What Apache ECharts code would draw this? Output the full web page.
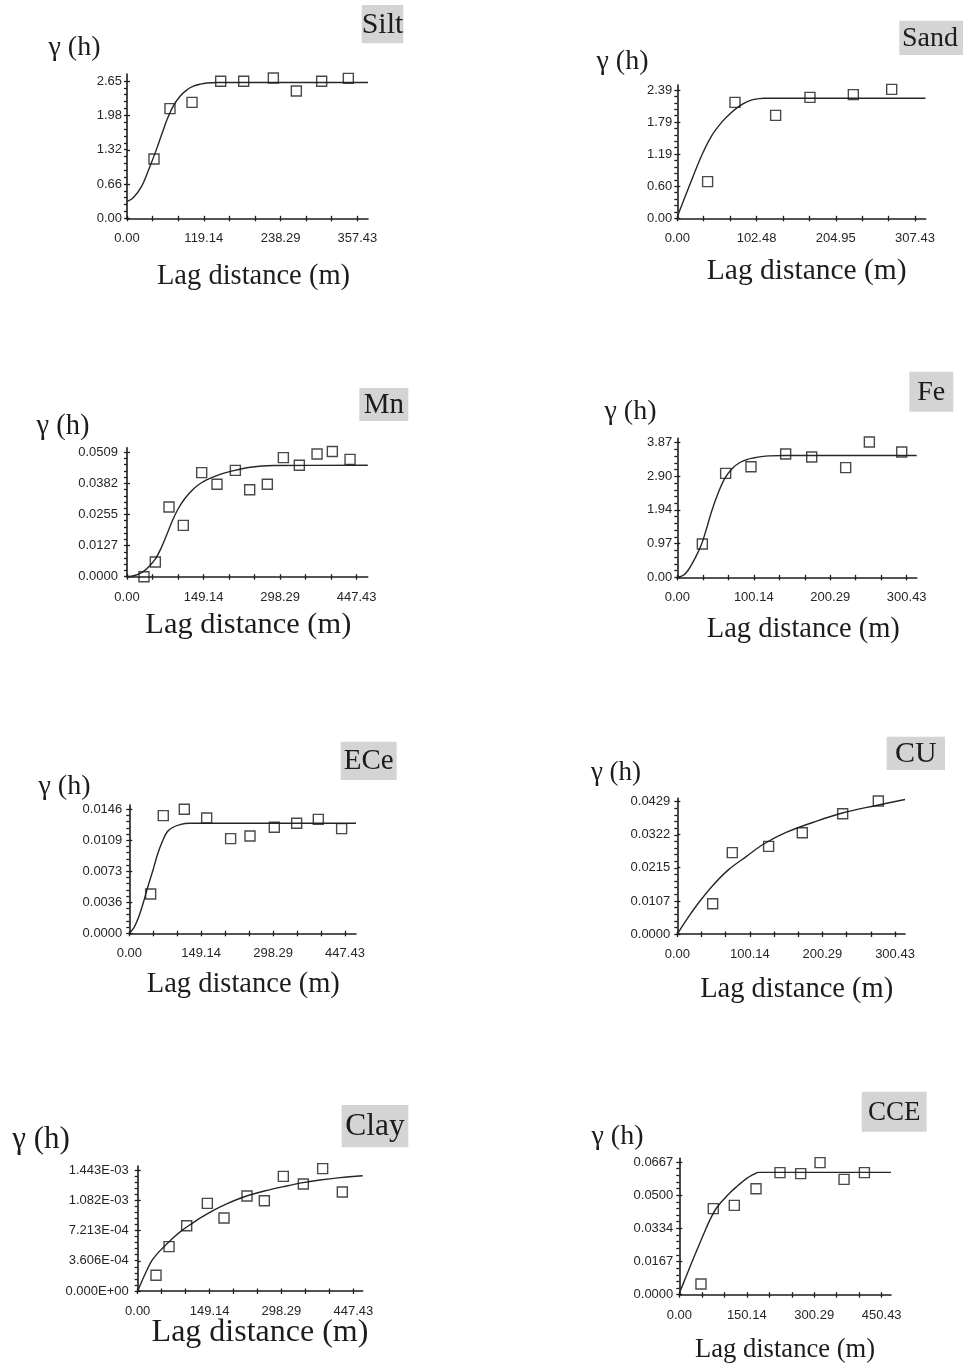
<!DOCTYPE html>
<html><head><meta charset="utf-8">
<script src="https://cdn.jsdelivr.net/npm/echarts@6/dist/echarts.min.js"></script>
<style>html,body{margin:0;padding:0;background:#fff}#c{width:963px;height:1364px}</style>
</head><body><div id="c"></div>
<script>
// ---------- DATA ----------
const siltPoints = [[41.9,1.145],[66.7,2.116],[100.9,2.238],[145.4,2.644],[181.1,2.644],[227.1,2.708],[262.8,2.457],[302.1,2.644],[343.5,2.701]];
const siltModel  = [[0,0.32],[10,0.40],[22.8,0.62],[34,0.95],[46,1.34],[55,1.66],[62.6,1.92],[72,2.17],[82,2.35],[92,2.47],[103,2.55],[114,2.59],[124,2.61],[140,2.62],[374,2.62]];
const siltXTicks = ['0.00','119.14','238.29','357.43'];
const siltYTicks = ['0.00','0.66','1.32','1.98','2.65'];

const sandPoints = [[39.2,0.683],[74.6,2.160],[127.2,1.918],[171.6,2.253],[227.7,2.303],[277.3,2.402]];
const sandModel  = [[0,0.03],[15.5,0.6],[31.5,1.17],[45,1.55],[58.2,1.80],[70,1.97],[81,2.1],[90,2.17],[98,2.21],[106,2.23],[112,2.235],[321,2.235]];
const sandXTicks = ['0.00','102.48','204.95','307.43'];
const sandYTicks = ['0.00','0.60','1.19','1.79','2.39'];

const mnPoints = [[33.1,0],[55.2,0.0060],[81.8,0.0285],[109.7,0.0210],[145.5,0.0426],[175.3,0.0378],[211.1,0.0435],[239,0.0356],[273.4,0.0378],[304.6,0.0487],[335.7,0.0456],[370.2,0.0502],[400,0.0512],[434.5,0.0480]];
const mnModel  = [[0,0],[15,0.0005],[30,0.0019],[42,0.0040],[55,0.0072],[66,0.0115],[78,0.0175],[89,0.0232],[100,0.0279],[112,0.0318],[126,0.0352],[140,0.0377],[155,0.0396],[180,0.0418],[200,0.043],[240,0.0448],[285,0.0455],[469,0.0456]];
const mnXTicks = ['0.00','149.14','298.29','447.43'];
const mnYTicks = ['0.0000','0.0127','0.0255','0.0382','0.0509'];

const fePoints = [[32.8,0.958],[63.3,2.989],[96.5,3.180],[141.9,3.544],[176,3.458],[220.5,3.152],[251.5,3.889],[293.9,3.602]];
const feModel  = [[0,0],[8,0.06],[14.4,0.21],[24,0.58],[31.9,0.96],[38,1.38],[45,1.90],[54,2.45],[62.4,2.85],[72,3.13],[82,3.30],[92,3.39],[99.6,3.43],[110,3.47],[121,3.49],[140,3.5],[313.5,3.5]];
const feXTicks = ['0.00','100.14','200.29','300.43'];
const feYTicks = ['0.00','0.97','1.94','2.90','3.87'];

const ecePoints = [[44.3,0.00463],[70.5,0.01386],[114.1,0.0146],[160.5,0.01358],[210.2,0.01115],[250.4,0.01146],[300.8,0.01248],[347.2,0.01295],[392.1,0.01342],[440.5,0.01232]];
const eceModel  = [[0,0],[10,0.0007],[20,0.002],[29,0.0036],[38,0.0054],[48.4,0.0073],[58,0.0092],[68.5,0.0108],[78,0.0119],[88,0.0124],[105,0.0128],[126,0.01295],[470.3,0.01295]];
const eceXTicks = ['0.00','149.14','298.29','447.43'];
const eceYTicks = ['0.0000','0.0036','0.0073','0.0109','0.0146'];

const cuPoints = [[48.8,0.00983],[75.9,0.02637],[126,0.02842],[172.5,0.03285],[228.2,0.03901],[277.4,0.04312]];
const cuModel  = [[0,0],[15,0.0054],[31.3,0.0107],[50,0.0160],[70.4,0.0208],[95,0.0251],[118.7,0.0291],[150.9,0.0330],[192.3,0.0366],[229,0.0393],[272.8,0.0416],[314.2,0.0436]];
const cuXTicks = ['0.00','100.14','200.29','300.43'];
const cuYTicks = ['0.0000','0.0107','0.0215','0.0322','0.0429'];

const clayPoints = [[38,1.87e-4],[65,5.29e-4],[101.7,7.79e-4],[144.5,1.045e-3],[179.1,8.71e-4],[226.8,1.133e-3],[262.8,1.077e-3],[302.2,1.367e-3],[343.7,1.276e-3],[383.8,1.459e-3],[424.6,1.181e-3]];
const clayModel  = [[0,0],[10,1.35e-4],[20,2.6e-4],[29,3.58e-4],[42,4.55e-4],[56.7,5.4e-4],[75,6.4e-4],[91.3,7.2e-4],[110,7.95e-4],[132.8,8.8e-4],[160,9.7e-4],[184.7,1.04e-3],[226,1.133e-3],[265,1.195e-3],[302,1.244e-3],[340,1.29e-3],[378,1.324e-3],[420,1.352e-3],[466.9,1.375e-3]];
const clayXTicks = ['0.00','149.14','298.29','447.43'];
const clayYTicks = ['0.000E+00','3.606E-04','7.213E-04','1.082E-03','1.443E-03'];

const ccePoints = [[48.2,0.00536],[75.7,0.04324],[122.4,0.04491],[170.7,0.05329],[224.1,0.06134],[270.1,0.06084],[313.2,0.06637],[366.6,0.05799],[411.9,0.06134]];
const cceModel  = [[0,0.0007],[14,0.0085],[27.5,0.0161],[43,0.0245],[58.6,0.0328],[70,0.0385],[81.6,0.0432],[92,0.0462],[103,0.0489],[115,0.0518],[127.6,0.0543],[140,0.0567],[150,0.0585],[160,0.0599],[168.5,0.0608],[176,0.0615],[471,0.0615]];
const cceXTicks = ['0.00','150.14','300.29','450.43'];
const cceYTicks = ['0.0000','0.0167','0.0334','0.0500','0.0667'];

const panelNames = ['Silt','Sand','Mn','Fe','ECe','CU','Clay','CCE'];
const yTitle = 'γ (h)';
const xTitle = 'Lag distance (m)';

// ---------- LAYOUT / STYLE ----------
const layout = [
  {pts:siltPoints, mdl:siltModel, xt:siltXTicks, yt:siltYTicks, grid:[127,74,241,144.3], xMax:374, yMax:2.785, gamma:[74.5,48,28], lag:[253.5,276.7,28.5], box:[361.7,5,41.6,38.3], tSize:30, yMargin:5},
  {pts:sandPoints, mdl:sandModel, xt:sandXTicks, yt:sandYTicks, grid:[677.3,85,248.4,133.3], xMax:321.3, yMax:2.483, gamma:[622.5,62,28], lag:[806.7,271.7,29.5], box:[899.3,20.7,70,34.3], tSize:28, yMargin:5, tCx:930},
  {pts:mnPoints, mdl:mnModel, xt:mnXTicks, yt:mnYTicks, grid:[127,447.7,240.7,129], xMax:468.9, yMax:0.05278, gamma:[63,426.7,28.5], lag:[248.3,625,30.4], box:[359.3,388,49,33], tSize:29, yMargin:9},
  {pts:fePoints, mdl:feModel, xt:feXTicks, yt:feYTicks, grid:[677.3,438.3,239.4,139], xMax:313.5, yMax:3.996, gamma:[630.5,411.7,28], lag:[803.3,630,28.5], box:[909.3,371.7,44,40], tSize:28, yMargin:5},
  {pts:ecePoints, mdl:eceModel, xt:eceXTicks, yt:eceYTicks, grid:[129.3,805,226.7,128.3], xMax:470.3, yMax:0.015107, gamma:[64.5,786.7,28], lag:[243.3,985,28.5], box:[340.7,741.7,56,38.3], tSize:29, yMargin:7},
  {pts:cuPoints, mdl:cuModel, xt:cuXTicks, yt:cuYTicks, grid:[677.3,798.3,227.7,135.7], xMax:314.2, yMax:0.0440, gamma:[616,773,27], lag:[796.7,990,28.5], box:[886.7,736.7,58.3,33.3], tSize:30, yMargin:7},
  {pts:clayPoints, mdl:clayModel, xt:clayXTicks, yt:clayYTicks, grid:[137.7,1166,225,125], xMax:466.9, yMax:0.0014907, gamma:[41,1140,31], lag:[260,1333,32], box:[341.7,1105,66.6,42.3], tSize:31.5, yMargin:9},
  {pts:ccePoints, mdl:cceModel, xt:cceXTicks, yt:cceYTicks, grid:[679.3,1158.3,211.7,136.4], xMax:471.1, yMax:0.06856, gamma:[617.5,1136.7,28], lag:[785,1350,26.6], box:[861.7,1091.7,65,40], tSize:27, yMargin:6}
];

const SERIF = "'Liberation Serif','Times New Roman',serif";
const SANS = "'Liberation Sans',Arial,sans-serif";
const INK = '#1c1c1c';

function fmt(labels){
  return function(v){
    let best = labels[0], bd = Infinity;
    labels.forEach(s => { const d = Math.abs(Number(s) - v); if (d < bd) { bd = d; best = s; } });
    return best;
  };
}

const grids = [], xAxes = [], yAxes = [], series = [], graphics = [];
layout.forEach((p, i) => {
  grids.push({left:p.grid[0], top:p.grid[1], width:p.grid[2], height:p.grid[3], containLabel:false});
  const xVals = p.xt.map(Number), yVals = p.yt.map(Number);
  const xLast = xVals[xVals.length-1], yLast = yVals[yVals.length-1];
  const xMinor = [], yMinor = [];
  for (let k = 0; k <= 9; k++) xMinor.push(xLast * k / 9);
  for (let k = 0; k <= 20; k++) yMinor.push(yLast * k / 20);

  const lineStyle = {color:INK, width:1.6};
  const tickStyle = {color:INK, width:1.3};
  const labelStyle = {color:'#262626', fontSize:13, fontFamily:SANS};

  xAxes.push({type:'value', gridIndex:i, min:0, max:p.xMax, position:'bottom',
    axisLine:{show:true, onZero:false, lineStyle:lineStyle},
    axisTick:{show:true, length:3, customValues:xMinor, lineStyle:tickStyle},
    axisLabel:Object.assign({show:true, customValues:xVals, formatter:fmt(p.xt), margin:14}, labelStyle),
    splitLine:{show:false}, minorTick:{show:false}});
  xAxes.push({type:'value', gridIndex:i, min:0, max:p.xMax, position:'bottom',
    axisLine:{show:false}, axisTick:{show:true, inside:true, length:2.5, customValues:xMinor, lineStyle:tickStyle},
    axisLabel:{show:false}, splitLine:{show:false}});
  yAxes.push({type:'value', gridIndex:i, min:0, max:p.yMax, position:'left',
    axisLine:{show:true, onZero:false, lineStyle:lineStyle},
    axisTick:{show:true, length:3, customValues:yMinor, lineStyle:tickStyle},
    axisLabel:Object.assign({show:true, customValues:yVals, formatter:fmt(p.yt), margin:p.yMargin}, labelStyle),
    splitLine:{show:false}});
  yAxes.push({type:'value', gridIndex:i, min:0, max:p.yMax, position:'left',
    axisLine:{show:false}, axisTick:{show:true, inside:true, length:3, customValues:yVals, lineStyle:tickStyle},
    axisLabel:{show:false}, splitLine:{show:false}});

  series.push({type:'line', xAxisIndex:2*i, yAxisIndex:2*i, data:p.mdl, showSymbol:false, symbol:'none',
    smooth:0.35, lineStyle:{color:'#262626', width:1.4}, silent:true, z:2});
  series.push({type:'scatter', xAxisIndex:2*i, yAxisIndex:2*i, data:p.pts, symbol:'rect', symbolSize:10,
    itemStyle:{color:'rgba(0,0,0,0)', borderColor:INK, borderWidth:1.4}, z:3});

  // panel title box
  graphics.push({type:'rect', shape:{x:p.box[0], y:p.box[1], width:p.box[2], height:p.box[3]}, style:{fill:'#d4d4d4'}, z:1});
  const tcx = p.tCx || (p.box[0] + p.box[2]/2);
  graphics.push({type:'text', x:tcx, y:p.box[1] + p.box[3]/2 + 1, z:2,
    style:{text:panelNames[i], font:p.tSize + 'px ' + SERIF, fill:INK, align:'center', verticalAlign:'middle', textAlign:'center', textVerticalAlign:'middle'}});
  graphics.push({type:'text', x:p.gamma[0], y:p.gamma[1], z:2,
    style:{text:yTitle, font:p.gamma[2] + 'px ' + SERIF, fill:INK, align:'center', verticalAlign:'middle', textAlign:'center', textVerticalAlign:'middle'}});
  graphics.push({type:'text', x:p.lag[0], y:p.lag[1], z:2,
    style:{text:xTitle, font:p.lag[2] + 'px ' + SERIF, fill:INK, align:'center', verticalAlign:'middle', textAlign:'center', textVerticalAlign:'middle'}});
});

const chart = echarts.init(document.getElementById('c'), null, {renderer:'canvas', width:963, height:1364});
chart.setOption({
  backgroundColor:'#ffffff',
  animation:false,
  grid:grids, xAxis:xAxes, yAxis:yAxes, series:series,
  graphic:{elements:graphics}
});
</script>
</body></html>
